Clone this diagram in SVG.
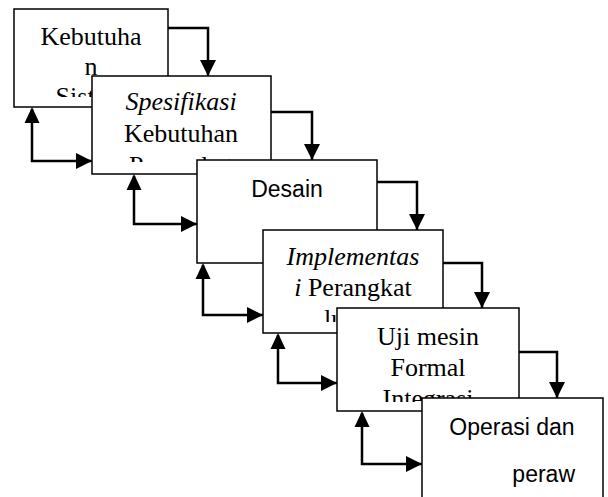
<svg xmlns="http://www.w3.org/2000/svg" width="608" height="497" viewBox="0 0 608 497">
<style>
.box{fill:#fff;stroke:#000;stroke-width:1.5}
.t{font-family:'Liberation Serif','DejaVu Serif',serif;font-size:26px;fill:#000;text-anchor:middle}
.s{font-family:'Liberation Sans','DejaVu Sans',sans-serif;font-size:23px;fill:#000}
.i{font-style:italic}
.c{fill:none;stroke:#000;stroke-width:2.5}
</style>
<defs>
<marker id="ah" markerUnits="userSpaceOnUse" markerWidth="16" markerHeight="16" viewBox="0 0 16 16" refX="16" refY="8" orient="auto">
<path d="M0,0 L16,8 L0,16 Z" fill="#000"/>
</marker>
<clipPath id="c1"><rect x="14" y="9" width="154" height="88"/></clipPath>
<clipPath id="c2"><rect x="92" y="76" width="179" height="86"/></clipPath>
<clipPath id="c4"><rect x="263" y="230" width="180" height="92"/></clipPath>
<clipPath id="c5"><rect x="337" y="308" width="182" height="94"/></clipPath>
</defs>
<g id="node1">
<rect class="box" x="14" y="9" width="154" height="98"/>
<g clip-path="url(#c1)">
<text class="t" x="91" y="45" font-family="Liberation Serif, serif" font-size="26">Kebutuha</text>
<text class="t" x="91" y="75" font-family="Liberation Serif, serif" font-size="26">n</text>
<text class="t" x="91" y="105" font-family="Liberation Serif, serif" font-size="26">Sistem</text>
</g>
</g>
<g id="node2">
<rect class="box" x="92" y="76" width="179" height="98"/>
<g clip-path="url(#c2)">
<text class="t i" x="181" y="110">Spesifikasi</text>
<text class="t" x="181" y="142">Kebutuhan</text>
<text class="t" x="181" y="174">Perangkat</text>
</g>
</g>
<g id="node3">
<rect class="box" x="197" y="160" width="180" height="103"/>
<text class="s" x="287" y="197" text-anchor="middle">Desain</text>
</g>
<g id="node4">
<rect class="box" x="263" y="230" width="180" height="103"/>
<g clip-path="url(#c4)">
<text class="t i" x="353" y="265">Implementas</text>
<text class="t" x="353" y="296"><tspan class="i">i</tspan> Perangkat</text>
<text class="t" x="353" y="327">lunak</text>
</g>
</g>
<g id="node5">
<rect class="box" x="337" y="308" width="182" height="103"/>
<g clip-path="url(#c5)">
<text class="t" x="428" y="345">Uji mesin</text>
<text class="t" x="428" y="376">Formal</text>
<text class="t" x="428" y="407">Integrasi</text>
</g>
</g>
<g id="node6">
<rect class="box" x="422" y="398" width="181" height="120"/>
<text class="s" x="512" y="435" text-anchor="middle">Operasi dan</text>
<text class="s" x="575" y="482" text-anchor="end">peraw</text>
</g>
<g id="connectors">
<path class="c" d="M168,28 H208 V76" marker-end="url(#ah)"/>
<path class="c" d="M271,112 H312 V160" marker-end="url(#ah)"/>
<path class="c" d="M377,182 H417 V230" marker-end="url(#ah)"/>
<path class="c" d="M443,263 H482 V308" marker-end="url(#ah)"/>
<path class="c" d="M519,352 H557 V398" marker-end="url(#ah)"/>
<path class="c" d="M32,109 V161 H92" marker-end="url(#ah)"/>
<path class="c" d="M134,176 V224 H197" marker-end="url(#ah)"/>
<path class="c" d="M203,265 V315 H263" marker-end="url(#ah)"/>
<path class="c" d="M278,335 V383 H337" marker-end="url(#ah)"/>
<path class="c" d="M362,413 V464 H422" marker-end="url(#ah)"/>
<path d="M32,107 L24.5,123 L39.5,123 Z"/>
<path d="M134,174 L126.5,190 L141.5,190 Z"/>
<path d="M203,263 L195.5,279 L210.5,279 Z"/>
<path d="M278,333 L270.5,349 L285.5,349 Z"/>
<path d="M362,411 L354.5,427 L369.5,427 Z"/>
</g>
</svg>
